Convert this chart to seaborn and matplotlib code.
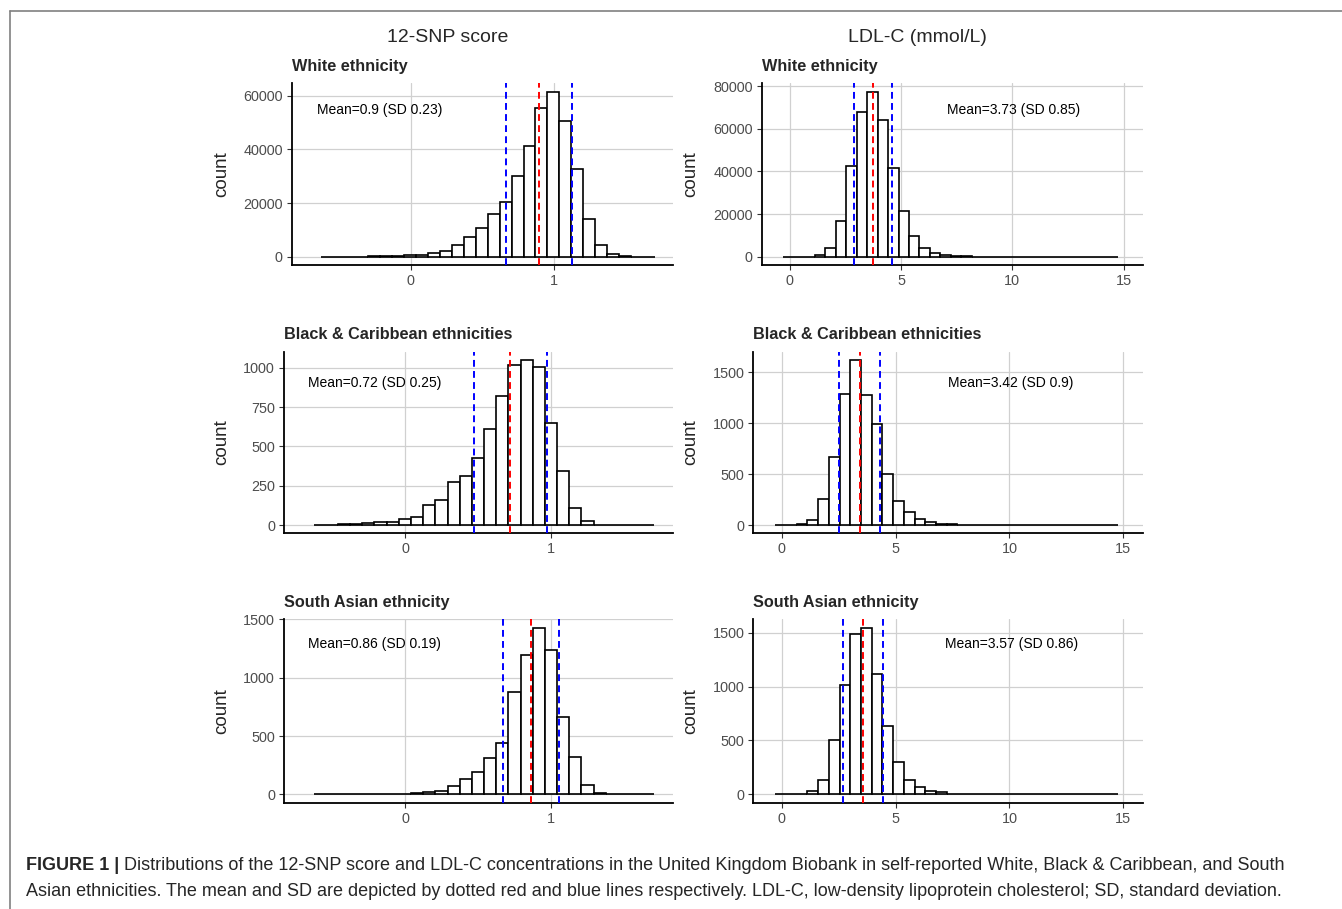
import numpy as np
import pandas as pd
import matplotlib
matplotlib.use("Agg")
import matplotlib.pyplot as plt
from matplotlib.lines import Line2D
import seaborn as sns

# ---- data ----
groups = ["White ethnicity", "Black & Caribbean ethnicities", "South Asian ethnicity"]

# 12-SNP score histograms (28 bins)
snp_start, snp_binwidth = -0.627, 0.0833
snp_white = [10, 20, 40, 80, 150, 250, 400, 550, 800, 1300, 2200, 4200, 7300, 10700,
             16000, 20200, 30200, 41300, 55200, 61500, 50400, 32700, 14000, 4400,
             1100, 200, 40, 10]
snp_black = [2, 3, 6, 4, 14, 17, 18, 36, 53, 129, 162, 272, 312, 426, 612, 821,
             1015, 1049, 1006, 648, 342, 110, 25, 3, 1, 2, 1, 1]
snp_sasian = [1, 1, 2, 2, 3, 3, 4, 6, 10, 22, 32, 69, 132, 195, 310, 436, 875,
              1190, 1425, 1233, 665, 318, 80, 16, 3, 1, 0, 1]

# LDL-C histograms (32 bins)
ldl_start, ldl_binwidth = -0.28, 0.47
ldl_white = [0, 5, 60, 800, 4200, 16900, 42700, 67900, 77500, 64300, 41800, 21600,
             9600, 3900, 1700, 700, 300, 150, 80, 40, 25, 15, 10, 8, 5, 4, 3, 2, 2,
             1, 1, 1]
ldl_black = [0, 1, 8, 45, 256, 672, 1282, 1620, 1273, 987, 500, 240, 127, 55, 30,
             12, 6, 4, 3, 2, 1, 1, 1, 1, 0, 1, 0, 0, 0, 0, 0, 1]
ldl_sasian = [0, 1, 5, 30, 130, 509, 1012, 1491, 1547, 1115, 634, 301, 130, 68, 31,
              22, 6, 4, 3, 2, 1, 1, 1, 0, 1, 0, 0, 0, 0, 0, 0, 1]

snp_mean = [0.9, 0.72, 0.86]
snp_sd = [0.23, 0.25, 0.19]
ldl_mean = [3.73, 3.42, 3.57]
ldl_sd = [0.85, 0.9, 0.86]

snp_yticks = [[0, 20000, 40000, 60000], [0, 250, 500, 750, 1000], [0, 500, 1000, 1500]]
ldl_yticks = [[0, 20000, 40000, 60000, 80000], [0, 500, 1000, 1500], [0, 500, 1000, 1500]]
snp_xticks = [0, 1]
ldl_xticks = [0, 5, 10, 15]

col_titles = ["12-SNP score", "LDL-C (mmol/L)"]
caption_bold = "FIGURE 1 |"
caption_1 = (" Distributions of the 12-SNP score and LDL-C concentrations in the United "
             "Kingdom Biobank in self-reported White, Black & Caribbean, and South")
caption_2 = ("Asian ethnicities. The mean and SD are depicted by dotted red and blue lines "
             "respectively. LDL-C, low-density lipoprotein cholesterol; SD, standard deviation.")

# ---- style ----
sns.set_style("whitegrid")
plt.rcParams["font.family"] = ["Liberation Sans", "DejaVu Sans"]

W, H = 1342, 909
fig = plt.figure(figsize=(W / 100, H / 100), dpi=100)

# panel boxes in pixels: left, right, top, bottom
boxes = [
    [(291.7, 673.3, 83.3, 265.0), (761.7, 1142.7, 83.3, 265.0)],
    [(284.0, 673.3, 351.7, 533.3), (753.3, 1142.7, 351.7, 533.3)],
    [(284.0, 673.3, 619.3, 802.7), (753.3, 1142.7, 619.3, 802.7)],
]
ylabel_x = [230, 699]
text_pos = [[(0.231, 0.853), (0.66, 0.853)],
            [(0.232, 0.829), (0.66, 0.826)],
            [(0.232, 0.865), (0.662, 0.863)]]

columns = [
    dict(start=snp_start, width=snp_binwidth, counts=[snp_white, snp_black, snp_sasian],
         mean=snp_mean, sd=snp_sd, yticks=snp_yticks, xticks=snp_xticks,
         xlim=(-0.83, 1.835)),
    dict(start=ldl_start, width=ldl_binwidth, counts=[ldl_white, ldl_black, ldl_sasian],
         mean=ldl_mean, sd=ldl_sd, yticks=ldl_yticks, xticks=ldl_xticks,
         xlim=(-1.25, 15.85)),
]

dash = (0, (3.5, 2.2))
for r in range(3):
    for c in range(2):
        col = columns[c]
        l, rgt, t, b = boxes[r][c]
        ax = fig.add_axes([l / W, 1 - b / H, (rgt - l) / W, (b - t) / H])
        counts = np.array(col["counts"][r], dtype=float)
        nb = len(counts)
        lo = col["start"]
        hi = lo + col["width"] * nb
        centers = lo + col["width"] * (np.arange(nb) + 0.5)
        df = pd.DataFrame({"x": centers, "n": counts})
        sns.histplot(data=df, x="x", weights="n", bins=nb, binrange=(lo, hi), ax=ax,
                     color="white", edgecolor="black", linewidth=1.2, alpha=1,
                     zorder=2)
        m, s = col["mean"][r], col["sd"][r]
        ax.axvline(m, color="#FF0000", lw=1.4, ls=dash, zorder=3)
        ax.axvline(m - s, color="#0000FF", lw=1.4, ls=dash, zorder=3)
        ax.axvline(m + s, color="#0000FF", lw=1.4, ls=dash, zorder=3)

        top = counts.max()
        ax.set_ylim(-0.05 * top, 1.05 * top)
        ax.set_xlim(*col["xlim"])
        ax.set_yticks(col["yticks"][r])
        ax.set_xticks(col["xticks"])
        ax.set_xlabel("")
        ax.set_ylabel("count", fontsize=13.5)
        ax.yaxis.set_label_coords(ylabel_x[c] / W, 1 - (t + b) / 2 / H,
                                  transform=fig.transFigure)
        ax.set_title(groups[r], loc="left", fontweight="bold", fontsize=11.7, pad=9)

        ax.grid(True, color="#D0D0D0", lw=0.9)
        ax.set_axisbelow(True)
        for side in ["top", "right"]:
            ax.spines[side].set_visible(False)
        for side in ["left", "bottom"]:
            ax.spines[side].set_color("black")
            ax.spines[side].set_linewidth(1.3)
        ax.tick_params(axis="both", which="major", labelsize=10.4, labelcolor="#4D4D4D",
                       length=3.5, width=0.8, color="#333333", pad=3, left=True,
                       bottom=True)

        mtxt = "Mean={:g} (SD {:g})".format(m, s)
        tx, ty = text_pos[r][c]
        ax.text(tx, ty, mtxt, transform=ax.transAxes, ha="center", va="center",
                fontsize=10, color="black")

fig.text(448 / W, 1 - 37 / H, col_titles[0], ha="center", va="center", fontsize=14)
fig.text(917 / W, 1 - 37 / H, col_titles[1], ha="center", va="center", fontsize=14)

# frame lines
fig.add_artist(Line2D([9.5 / W, 1], [1 - 10.5 / H, 1 - 10.5 / H], color="#808080",
                      lw=1.2, transform=fig.transFigure))
fig.add_artist(Line2D([9.5 / W, 9.5 / W], [1 - 10.5 / H, 0], color="#808080",
                      lw=1.2, transform=fig.transFigure))

# caption
cap_fs = 12.95
tb = fig.text(26 / W, 1 - 866 / H, caption_bold, ha="left", va="center",
              fontsize=cap_fs, fontweight="bold")
fig.canvas.draw()
ext = tb.get_window_extent()
fig.text(ext.x1 / W, 1 - 866 / H, caption_1, ha="left", va="center", fontsize=cap_fs)
fig.text(26 / W, 1 - 891 / H, caption_2, ha="left", va="center", fontsize=cap_fs)

fig.savefig("out.png", dpi=100)
